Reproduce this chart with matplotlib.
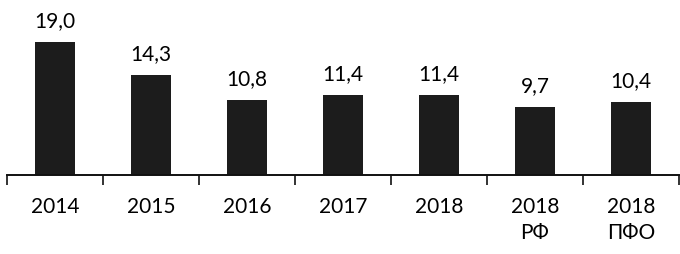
import numpy as np
import matplotlib.pyplot as plt

plt.rcParams['font.family'] = ['Lato', 'DejaVu Sans']

categories = ['2014', '2015', '2016', '2017', '2018', '2018\nРФ', '2018\nПФО']
values = [19.0, 14.3, 10.8, 11.4, 11.4, 9.7, 10.4]
value_labels = ['19,0', '14,3', '10,8', '11,4', '11,4', '9,7', '10,4']


def driver():
    fig = plt.figure(figsize=(6.8, 2.55), dpi=100)
    ax = fig.add_axes([0.0103, 0.31, 0.9882, 0.69])

    x = np.arange(len(values))
    bars = ax.bar(x, values, width=0.41, color='#1c1c1c')

    for b, lab in zip(bars, value_labels):
        ax.annotate(lab, (b.get_x() + b.get_width() / 2, b.get_height()),
                    xytext=(0, 8.5), textcoords='offset points',
                    ha='center', va='bottom', fontsize=15, color='#000000')

    ax.set_xlim(-0.5, len(values) - 0.5)
    ax.set_ylim(0, 25.2)

    for s in ['top', 'right', 'left']:
        ax.spines[s].set_visible(False)
    ax.spines['bottom'].set_linewidth(1.4)
    ax.spines['bottom'].set_color('#111111')

    ax.set_yticks([])
    ax.set_xticks(x)
    ax.set_xticklabels(categories, fontsize=15, color='#000000', linespacing=1.4)
    ax.tick_params(axis='x', which='major', length=0, pad=15)
    ax.set_xticks(np.arange(-0.5, len(values)), minor=True)
    ax.tick_params(axis='x', which='minor', length=7, width=1.2, color='#111111', direction='out')

    fig.savefig('out.png', dpi=100)


driver()
